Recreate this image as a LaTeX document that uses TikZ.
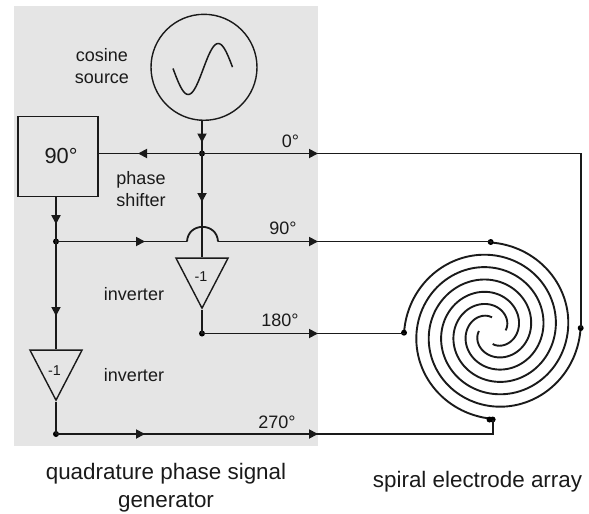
\documentclass[tikz,border=0pt]{standalone}
\usepackage{fontspec}
\setmainfont{Liberation Sans}
\usetikzlibrary{arrows.meta,decorations.markings,shapes.geometric}
\definecolor{panelgrey}{HTML}{E5E5E5}
\definecolor{inkblack}{HTML}{1A1A1A}
\tikzset{
	wire/.style={draw=inkblack, line width=1.8pt},
	arrowat/.style={postaction={decorate, decoration={markings, mark=at position #1 with {\arrow{Triangle[length=9pt,width=9pt]}}}}},
	dot/.style={circle, fill=black, inner sep=0pt, minimum size=6pt},
	caption/.style={text=inkblack, align=center, inner sep=0pt, font=\fontsize{18}{22}\selectfont},
	bigcaption/.style={text=inkblack, align=center, inner sep=0pt, font=\fontsize{22.4}{28}\selectfont},
	inverter/.style={draw=inkblack, line width=1.4pt, isosceles triangle, isosceles triangle stretches, shape border rotate=270, minimum width=52pt, minimum height=50pt, inner sep=0pt, anchor=apex}
}
\begin{document}
\begin{tikzpicture}[x=1pt, y=-1pt]
	\useasboundingbox (0,0) rectangle (589,514);
	% Grey panel
	\fill[panelgrey] (14,6) rectangle (318,446);

	% Blocks
	\node[draw=inkblack, line width=1.4pt, circle, minimum size=106pt, inner sep=0pt] (source) at (204,67.3) {};
	\draw[inkblack, line width=1.5pt, domain=173:232.5, samples=60, smooth] plot ({\x}, {69-25.5*sin((\x-203.2)*6)});
	\node[draw=inkblack, line width=1.4pt, minimum size=80pt, inner sep=0pt] (shifter) at (58,156.5) {};
	\node[inverter] (invupper) at (202,310) {};
	\node[inverter] (invlower) at (56,402) {};

	% Junctions
	\node[dot] (jzero) at (202,153.5) {};
	\node[dot] (jninety) at (56,241.5) {};
	\node[dot] (joneeighty) at (202,333.5) {};
	\node[dot] (jtwoseventy) at (56,434) {};

	% Spiral electrode array
	\foreach \armrot in {0,90,180,270} {
		\draw[inkblack, line width=1.9pt, domain=0:540, samples=180, smooth] plot ({492.3+(13.3+\x/90*12.5)*cos(88.5-\x+\armrot)}, {330.7+(13.3+\x/90*12.5)*sin(88.5-\x+\armrot)});
	}
	\node[dot] (armtop) at (490.7,242) {};
	\node[dot] (armright) at (580.7,328) {};
	\node[dot] (armleft) at (404,332.7) {};
	\node[dot] (armbottom) at (489.5,419.5) {};
	\node[dot] (armfeed) at (492.6,419.5) {};

	% Hump over the vertical wire
	\coordinate (humpleft) at (187,241.5);
	\coordinate (humpright) at (218,241.5);

	% Connections
	\draw[wire, arrowat=21.5pt] (jzero |- source.south) -- (jzero.center);
	\draw[wire, arrowat=64pt] (jzero.center) -- (shifter.east |- jzero);
	\draw[wire, arrowat=116pt] (jzero.center) -| (armright.center);
	\draw[wire, arrowat=48.5pt] (jzero.center) -- (invupper.lower side);
	\draw[wire, arrowat=27pt] (jninety |- shifter.south) -- (jninety.center);
	\draw[wire, arrowat=89pt] (jninety.center) -- (humpleft);
	\draw[wire] (humpleft) .. controls (188,222) and (217,222) .. (humpright);
	\draw[wire, arrowat=100pt] (humpright) -- (armtop.center |- humpright) -- (armtop.center);
	\draw[wire, arrowat=74.5pt] (jninety.center) -- (invlower.lower side);
	\draw[wire] (invupper.apex) -- (joneeighty.center);
	\draw[wire, arrowat=116pt] (joneeighty.center) -- (armleft.center |- joneeighty) -- (armleft.center);
	\draw[wire] (invlower.apex) -- (jtwoseventy.center);
	\draw[wire, arrowat=89pt, arrowat=262pt] (jtwoseventy.center) -| (armfeed.center);

	% Labels
	\node[caption, font=\fontsize{21.8}{24}\selectfont] (shifterlabel) at (61,155.5) {90°};
	\node[caption, font=\fontsize{14.3}{16}\selectfont] (invupperfactor) at (201,277) {-1};
	\node[caption, font=\fontsize{14.3}{16}\selectfont] (invlowerfactor) at (54.5,371) {-1};
	\node[caption] (cosinelabel) at (102,66) {cosine\\source};
	\node[caption] (phaselabel) at (141,189.5) {phase\\shifter};
	\node[caption] (zerolabel) at (290.5,141) {0°};
	\node[caption] (ninetylabel) at (283,228) {90°};
	\node[caption] (oneeightylabel) at (280,320) {180°};
	\node[caption] (twoseventylabel) at (277,422) {270°};
	\node[caption] (invupperlabel) at (134,294) {inverter};
	\node[caption] (invlowerlabel) at (134,375) {inverter};
	\node[bigcaption] (generatorlabel) at (166,487.5) {quadrature phase signal\\generator};
	\node[bigcaption] (arraylabel) at (477.5,482) {spiral electrode array};
\end{tikzpicture}
\end{document}
